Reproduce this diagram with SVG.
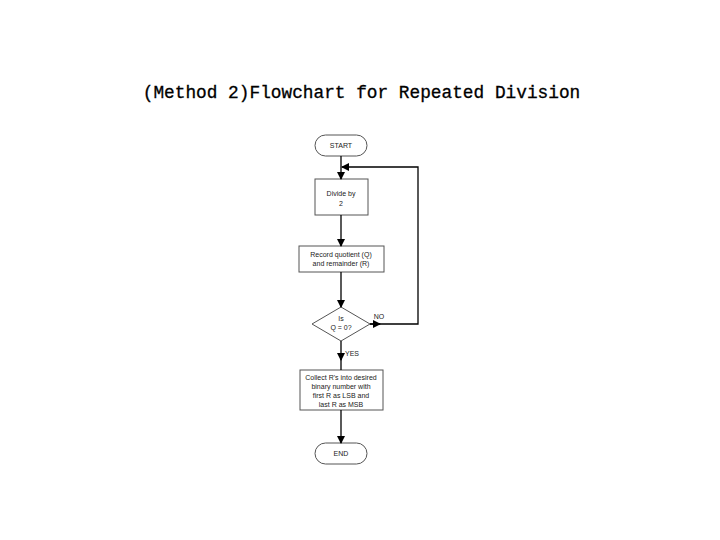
<svg xmlns="http://www.w3.org/2000/svg" width="720" height="540" viewBox="0 0 720 540">
<defs><marker id="a" markerWidth="8" markerHeight="8" refX="7" refY="4" orient="auto" markerUnits="userSpaceOnUse"><path d="M0,0 L8,4 L0,8 Z" fill="#000"/></marker></defs>
<style>.n{fill:#fff;stroke:#555;stroke-width:1}.t{font-family:"Liberation Sans",Arial,sans-serif;font-size:7px;fill:#222;text-anchor:middle}.c{stroke:#000;stroke-width:1.3;fill:none}</style>
<rect width="720" height="540" fill="#fff"/>
<text x="361.5" y="98" font-family="Liberation Mono,monospace" font-size="17.8" text-anchor="middle" stroke="#000" stroke-width="0.3">(Method 2)Flowchart for Repeated Division</text>
<g id="start"><rect class="n" x="315" y="135" width="52" height="21" rx="10.5"/><text class="t" x="341" y="148">START</text></g>
<g id="divide"><rect class="n" x="315" y="179" width="53" height="36"/><text class="t" x="341" y="196">Divide by</text><text class="t" x="341" y="206">2</text></g>
<g id="record"><rect class="n" x="299" y="246" width="85" height="26"/><text class="t" x="341" y="257">Record quotient (Q)</text><text class="t" x="341" y="266">and remainder (R)</text></g>
<g id="decision"><polygon class="n" points="341,307 370,324 341,341 312,324"/><text class="t" x="341" y="321">Is</text><text class="t" x="341" y="330">Q = 0?</text></g>
<g id="collect"><rect class="n" x="300" y="370" width="83" height="40"/><text class="t" x="341" y="380">Collect R's into desired</text><text class="t" x="341" y="389">binary number with</text><text class="t" x="341" y="398">first R as LSB and</text><text class="t" x="341" y="407">last R as MSB</text></g>
<g id="end"><rect class="n" x="315" y="443" width="52" height="21" rx="10.5"/><text class="t" x="341" y="456">END</text></g>
<g id="connectors">
<path class="c" d="M341,156 V179" marker-end="url(#a)"/>
<path class="c" d="M341,215 V246" marker-end="url(#a)"/>
<path class="c" d="M341,272 V307" marker-end="url(#a)"/>
<path class="c" d="M341,341 V360" marker-end="url(#a)"/>
<path class="c" d="M341,358 V370"/>
<path class="c" d="M341,410 V443" marker-end="url(#a)"/>
<path class="c" d="M370,324 H418 V167 H342" marker-end="url(#a)"/>
<path class="c" d="M370,324 H380" marker-end="url(#a)"/>
<text class="t" x="379" y="319">NO</text>
<text class="t" x="352" y="356">YES</text>
</g>
</svg>
